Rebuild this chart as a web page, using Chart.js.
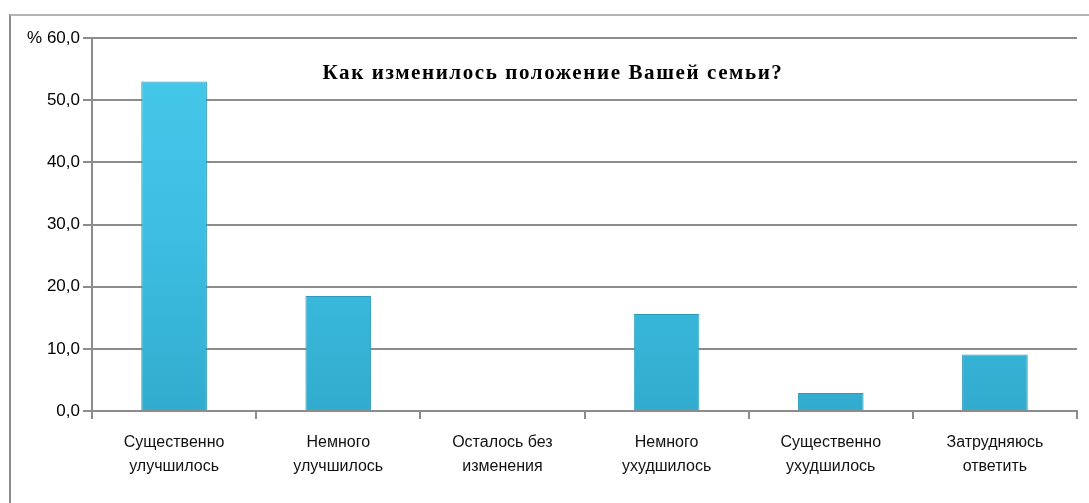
<!DOCTYPE html>
<html lang="ru">
<head>
    <meta charset="UTF-8">
    <title>Как изменилось положение Вашей семьи?</title>
    <script src="https://cdn.jsdelivr.net/npm/chart.js"></script>
    <style>
        html, body {
            margin: 0;
            padding: 0;
            background: #fff;
            overflow: hidden;
        }
        #frame {
            position: absolute;
            left: 9px;
            top: 14px;
            width: 1080px;
            height: 489px;
            border-top: 2px solid #b4b4b4;
            border-left: 2px solid #8c8c8c;
        }
        #wrap {
            position: absolute;
            left: 0;
            top: 0;
            width: 1089px;
            height: 503px;
        }
    </style>
</head>
<body>
    <div id="frame"></div>
    <div id="wrap"><canvas id="familyChart"></canvas></div>

    <script>
        const chartTitle = 'Как изменилось положение Вашей семьи?';
        const categories = [
            ['Существенно', 'улучшилось'],
            ['Немного', 'улучшилось'],
            ['Осталось без', 'изменения'],
            ['Немного', 'ухудшилось'],
            ['Существенно', 'ухудшилось'],
            ['Затрудняюсь', 'ответить']
        ];
        const percents = [53.0, 18.5, 0, 15.6, 2.9, 9.1];
        const yTicks = [0, 10, 20, 30, 40, 50, 60];

        // title sits inside the plot area, like in the Excel original
        const titleInside = {
            id: 'titleInside',
            afterDraw(chart) {
                const ctx = chart.ctx;
                const area = chart.chartArea;
                ctx.save();
                ctx.font = 'bold 21px "Liberation Serif", "Times New Roman", serif';
                ctx.fillStyle = '#000';
                ctx.textAlign = 'center';
                ctx.textBaseline = 'middle';
                ctx.letterSpacing = '1.6px';
                ctx.fillText(chartTitle, area.left + (area.right - area.left) * 0.468, area.top + 36);
                ctx.restore();
            }
        };

        const ctx = document.getElementById('familyChart').getContext('2d');
        new Chart(ctx, {
            type: 'bar',
            data: {
                labels: categories,
                datasets: [{
                    data: percents,
                    backgroundColor: (c) => {
                        const area = c.chart.chartArea;
                        if (!area) return '#3fc3e6';
                        const g = c.chart.ctx.createLinearGradient(0, area.bottom, 0, area.top);
                        g.addColorStop(0, '#32acce');
                        g.addColorStop(0.5, '#3dbfe3');
                        g.addColorStop(1, '#45c9ea');
                        return g;
                    },
                    borderColor: '#2b9cbc',
                    borderWidth: 1,
                    barPercentage: 0.4,
                    categoryPercentage: 1.0
                }]
            },
            options: {
                responsive: true,
                maintainAspectRatio: false,
                animation: false,
                layout: { padding: { left: 10, right: 12, top: 38, bottom: 0 } },
                plugins: {
                    legend: { display: false },
                    tooltip: { enabled: false }
                },
                scales: {
                    x: {
                        grid: {
                            display: true,
                            drawOnChartArea: false,
                            drawTicks: true,
                            tickLength: 8,
                            color: '#8c8c8c',
                            lineWidth: 2
                        },
                        border: { color: '#8c8c8c', width: 2 },
                        ticks: {
                            color: '#111',
                            font: { family: '"Liberation Sans", Arial, sans-serif', size: 16, lineHeight: 1.5 },
                            padding: 12,
                            maxRotation: 0
                        },
                        afterFit: (s) => { s.height = 92; }
                    },
                    y: {
                        min: 0,
                        max: 60,
                        afterBuildTicks: (s) => { s.ticks = yTicks.map(v => ({ value: v })); },
                        grid: {
                            color: '#8c8c8c',
                            lineWidth: 2,
                            tickLength: 9
                        },
                        border: { color: '#8c8c8c', width: 2 },
                        ticks: {
                            color: '#000',
                            font: { family: '"Liberation Sans", Arial, sans-serif', size: 17 },
                            padding: 3,
                            callback: (v) => (v === 60 ? '% ' : '') + v.toFixed(1).replace('.', ',')
                        },
                        afterFit: (s) => { s.width = 82; }
                    }
                }
            },
            plugins: [titleInside]
        });
    </script>
</body>
</html>
